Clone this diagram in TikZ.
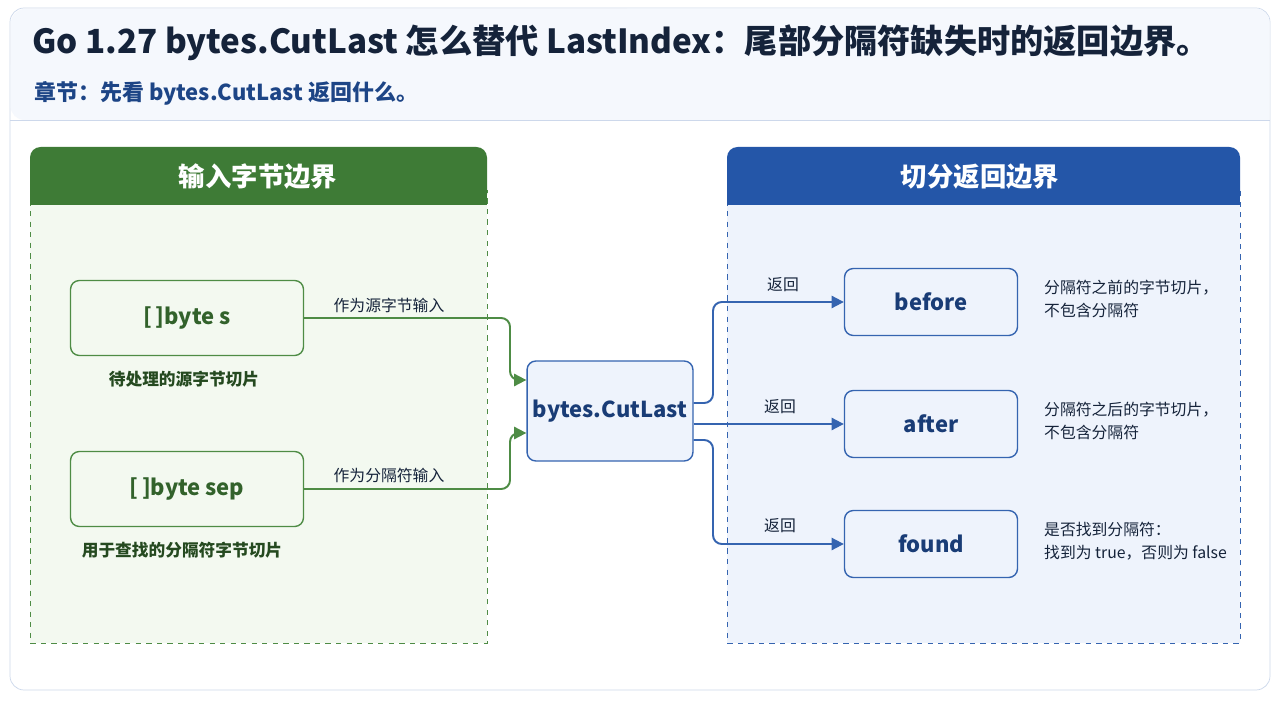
\documentclass[tikz,border=0pt]{standalone}
\usepackage{fontspec}
\setmainfont{Noto Sans CJK SC}
\usetikzlibrary{arrows.meta}
\definecolor{gdark}{HTML}{3E7B36}
\definecolor{gline}{HTML}{4E8C45}
\definecolor{gfill}{HTML}{F3F9F0}
\definecolor{bdark}{HTML}{2456A8}
\definecolor{bline}{HTML}{3564B0}
\definecolor{bfill}{HTML}{EEF3FC}
\definecolor{ink}{HTML}{15233A}
\tikzset{
  gbox/.style={rectangle,rounded corners=5pt,draw=gline,thick,fill=gfill,minimum width=4.66cm,minimum height=1.5cm,font=\fontsize{12.5}{14}\bfseries,text=gdark!80!black},
  bbox/.style={rectangle,rounded corners=5pt,draw=bline,thick,fill=bfill,minimum width=3.46cm,minimum height=1.34cm,font=\fontsize{12.5}{14}\bfseries,text=bdark!70!black},
  note/.style={font=\fontsize{9}{13}\selectfont,text=ink,align=left},
  garrow/.style={draw=gline,line width=1.1pt,-{Triangle[length=7pt,width=7pt]}},
  barrow/.style={draw=bline,line width=1.1pt,-{Triangle[length=7pt,width=7pt]}},
  lbl/.style={font=\fontsize{9}{11}\selectfont,text=ink}
}
\begin{document}
\begin{tikzpicture}[x=0.02cm,y=-0.02cm]
\useasboundingbox (0,0) rectangle (1280,702);
\fill[white] (0,0) rectangle (1280,702);
\draw[draw=bline!25,fill=white,rounded corners=8pt] (10,8) rectangle (1270,690);
\fill[bfill!60] ([shift={(1,1)}]10,8) [rounded corners=8pt] -- (10.5,120) [sharp corners] -- (1269.5,120) [rounded corners=8pt]-- (1269.5,8.5) -- cycle;
\draw[bline!25] (10,120) -- (1270,120);
\node[anchor=west,font=\fontsize{18.9}{20}\bfseries,text=ink] (title) at (26,43) {Go 1.27 bytes.CutLast 怎么替代 LastIndex：尾部分隔符缺失时的返回边界。};
\node[anchor=west,font=\fontsize{12.5}{14}\bfseries,text=bdark!80!black] (sub) at (28,93) {章节：先看 bytes.CutLast 返回什么。};
% left panel
\draw[gline,dashed,fill=gfill] (30,190) rectangle (487,643);
\fill[gdark,rounded corners=6pt] (30,147) rectangle (487,205);
\fill[gdark] (30,190) rectangle (487,205);
\node[text=white,font=\fontsize{15}{17}\bfseries] (lhead) at (258,177) {输入字节边界};
% right panel
\draw[bline,dashed,fill=bfill] (727,190) rectangle (1240,643);
\fill[bdark,rounded corners=6pt] (727,147) rectangle (1240,205);
\fill[bdark] (727,190) rectangle (1240,205);
\node[text=white,font=\fontsize{15}{17}\bfseries] (rhead) at (980,177) {切分返回边界};
% nodes
\node[gbox] (s) at (187,318) {[\,]byte s};
\node[gbox] (sep) at (187,489) {[\,]byte sep};
\node[note,font=\fontsize{9.5}{13}\bfseries,text=gdark!60!black] (scap) at (184,379) {待处理的源字节切片};
\node[note,font=\fontsize{9.5}{13}\bfseries,text=gdark!60!black] (sepcap) at (182,550) {用于查找的分隔符字节切片};
\node[bbox,minimum width=3.3cm,minimum height=2cm,font=\fontsize{12.5}{15}\bfseries] (cut) at (610,411) {bytes.CutLast};
\node[bbox] (before) at (931,302) {before};
\node[bbox] (after) at (931,424) {after};
\node[bbox] (found) at (931,544) {found};
\node[note,anchor=west] (bnote) at (1038,299) {分隔符之前的字节切片，\\不包含分隔符};
\node[note,anchor=west] (anote) at (1038,421) {分隔符之后的字节切片，\\不包含分隔符};
\node[note,anchor=west] (fnote) at (1038,541) {是否找到分隔符：\\找到为 true，否则为 false};
% arrows
\draw[garrow,rounded corners=5pt] (s.east) -- (510,318) -- (510,380) -- (cut.west |- 0,380);
\draw[garrow,rounded corners=5pt] (sep.east) -- (510,489) -- (510,433) -- (cut.west |- 0,433);
\node[lbl] (ls) at (389,305) {作为源字节输入};
\node[lbl] (lsep) at (389,475) {作为分隔符输入};
\draw[barrow,rounded corners=5pt] (cut.east |- 0,403) -- (713,403) -- (713,302) -- (before.west);
\draw[barrow] (cut.east |- 0,424) -- (after.west);
\draw[barrow,rounded corners=5pt] (cut.east |- 0,440) -- (713,440) -- (713,544) -- (found.west);
\node[lbl] (lb) at (783,285) {返回};
\node[lbl] (la) at (780,407) {返回};
\node[lbl] (lf) at (780,526) {返回};
\end{tikzpicture}
\end{document}
